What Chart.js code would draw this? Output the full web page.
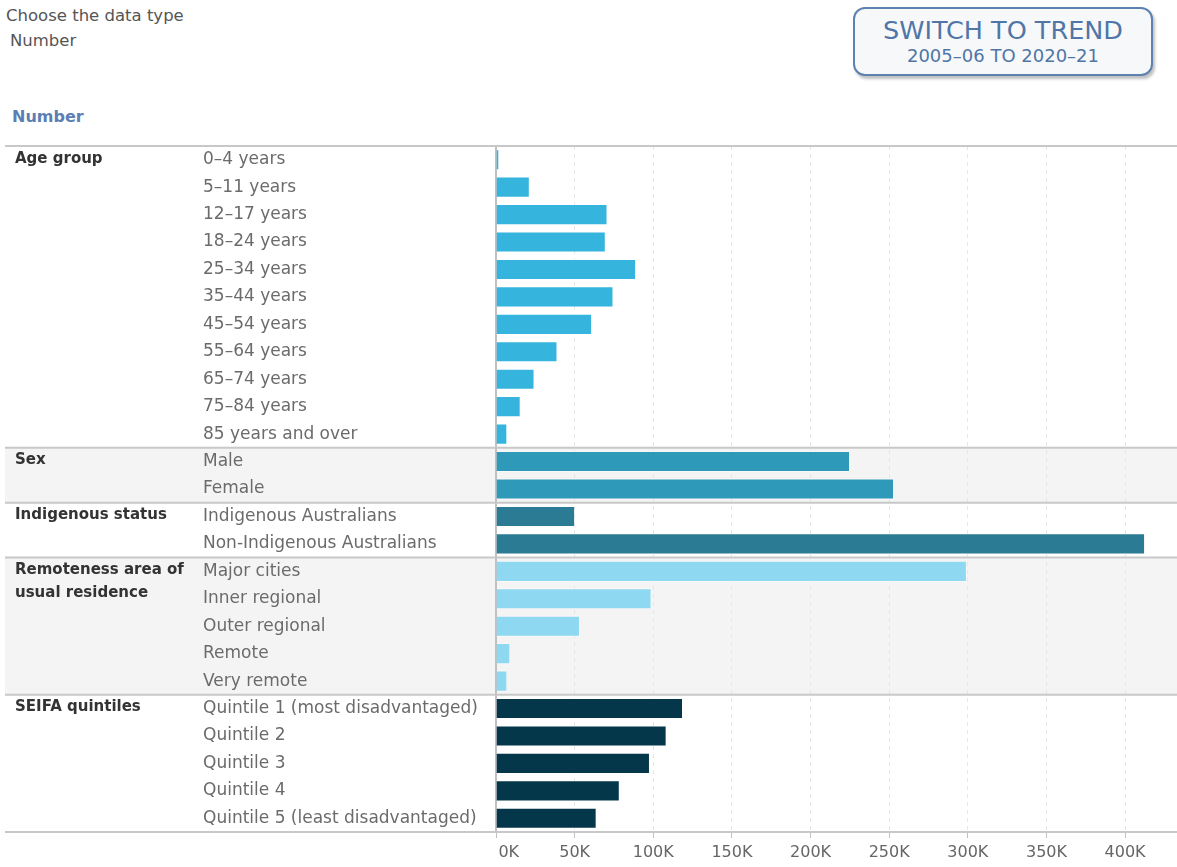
<!DOCTYPE html>
<html>
<head>
<meta charset="utf-8">
<script src="https://cdn.jsdelivr.net/npm/chart.js@4"></script>
<style>
  body { margin: 0; background: #fff; font-family: "DejaVu Sans", sans-serif; }
  #page { position: relative; width: 1177px; height: 867px; overflow: hidden; }
  .txt { position: absolute; white-space: nowrap; color: #555; font-size: 16.5px; }
  #choose { left: 6px; top: 6px; }
  #pick { left: 10px; top: 31px; }
  #heading { left: 12px; top: 107px; color: #5b7fb5; font-size: 16px; font-weight: bold; }
  #switch {
    position: absolute; left: 853px; top: 7px; width: 296px; height: 65px;
    border: 2px solid #5e82b0; border-radius: 12px; background: #f7f8fa;
    box-shadow: 2px 3px 3px rgba(0,0,0,0.25); text-align: center; color: #4f76a6;
  }
  #switch .big { font-size: 25.5px; margin-top: 6px; line-height: 30px; }
  #switch .small { font-size: 18px; line-height: 21px; }
  #wrap { position: absolute; left: 0; top: 140px; width: 1177px; height: 727px; }
</style>
</head>
<body>
<div id="page">
  <div class="txt" id="choose">Choose the data type</div>
  <div class="txt" id="pick">Number</div>
  <div id="switch"><div class="big">SWITCH TO TREND</div><div class="small">2005–06 TO 2020–21</div></div>
  <div class="txt" id="heading">Number</div>
  <div id="wrap"><canvas id="myChart"></canvas></div>
</div>
<script>
// data, in thousands
const groupNames = ['Age group', 'Sex', 'Indigenous status', 'Remoteness area of|usual residence', 'SEIFA quintiles'];

const ageLabels = ['0–4 years', '5–11 years', '12–17 years', '18–24 years', '25–34 years', '35–44 years',
                   '45–54 years', '55–64 years', '65–74 years', '75–84 years', '85 years and over'];
const ageValues = [2.1, 21.5, 70.9, 69.8, 89.1, 74.7, 61.1, 39.1, 24.5, 15.7, 7.2];

const sexLabels = ['Male', 'Female'];
const sexValues = [225.1, 253.1];

const indigLabels = ['Indigenous Australians', 'Non-Indigenous Australians'];
const indigValues = [50.3, 412.7];

const remoteLabels = ['Major cities', 'Inner regional', 'Outer regional', 'Remote', 'Very remote'];
const remoteValues = [299.4, 98.9, 53.4, 9.1, 7.2];

const seifaLabels = ['Quintile 1 (most disadvantaged)', 'Quintile 2', 'Quintile 3', 'Quintile 4', 'Quintile 5 (least disadvantaged)'];
const seifaValues = [118.9, 108.5, 97.9, 78.7, 64.0];

const groupColors = ['#35b4dd', '#2e99b9', '#2a7b93', '#8ed8f1', '#04374a'];
const shadedGroups = [1, 3];

const xTicks = [0, 50, 100, 150, 200, 250, 300, 350, 400];

// build flat lists
const groupLabels = [ageLabels, sexLabels, indigLabels, remoteLabels, seifaLabels];
const groupValues = [ageValues, sexValues, indigValues, remoteValues, seifaValues];
let labels = [], values = [], colors = [], groupStart = [];
groupLabels.forEach((g, gi) => {
  groupStart.push(labels.length);
  g.forEach((l, i) => {
    labels.push(l);
    values.push(groupValues[gi][i]);
    colors.push(groupColors[gi]);
  });
});
groupStart.push(labels.length);

const groupPlugin = {
  id: 'groups',
  beforeDraw(chart) {
    const ctx = chart.ctx, y = chart.scales.y;
    const half = (y.getPixelForValue(1) - y.getPixelForValue(0)) / 2;
    ctx.save();
    ctx.fillStyle = '#f4f4f4';
    shadedGroups.forEach(gi => {
      const top = y.getPixelForValue(groupStart[gi]) - half;
      const bot = y.getPixelForValue(groupStart[gi + 1] - 1) + half;
      ctx.fillRect(5, top, chart.width - 5, bot - top);
    });
    ctx.restore();
  },
  afterDraw(chart) {
    const ctx = chart.ctx, y = chart.scales.y;
    const half = (y.getPixelForValue(1) - y.getPixelForValue(0)) / 2;
    ctx.save();
    ctx.strokeStyle = '#c8c8c8';
    ctx.lineWidth = 2;
    groupStart.forEach((s, k) => {
      const py = k < groupStart.length - 1 ? y.getPixelForValue(s) - half : y.getPixelForValue(s - 1) + half;
      ctx.beginPath();
      ctx.moveTo(5, py);
      ctx.lineTo(chart.width, py);
      ctx.stroke();
    });
    ctx.fillStyle = '#333';
    ctx.font = 'bold 15px "DejaVu Sans"';
    ctx.textBaseline = 'middle';
    groupNames.forEach((name, gi) => {
      const cy = y.getPixelForValue(groupStart[gi]) - 1;
      name.split('|').forEach((line, li) => {
        ctx.fillText(line, 15, cy + li * 23);
      });
    });
    ctx.restore();
  }
};

const ctx = document.getElementById('myChart').getContext('2d');
new Chart(ctx, {
  type: 'bar',
  data: {
    labels: labels,
    datasets: [{
      data: values,
      backgroundColor: colors,
      borderColor: 'rgba(255,255,255,0.45)',
      borderWidth: 1,
      barPercentage: 0.77,
      categoryPercentage: 1,
    }],
  },
  options: {
    indexAxis: 'y',
    responsive: true,
    maintainAspectRatio: false,
    animation: false,
    layout: { padding: { left: 203, top: 6, right: 0, bottom: 0 } },
    plugins: { legend: { display: false }, tooltip: { enabled: false } },
    scales: {
      x: {
        min: 0,
        max: 433,
        afterBuildTicks: (scale) => { scale.ticks = xTicks.map(v => ({ value: v })); },
        afterFit: (scale) => { scale.height = 35; },
        ticks: {
          // Tableau keeps the first label right of the axis
          callback: (v) => v === 0 ? '     0K' : v + 'K',
          color: '#666',
          padding: 5,
          font: { family: 'DejaVu Sans', size: 16 },
          maxRotation: 0,
        },
        grid: { color: '#e6e6e6', tickColor: '#c0c0c0', tickLength: 6, lineWidth: 1 },
        border: { display: false, dash: [4, 4] },
      },
      y: {
        afterFit: (scale) => {
          scale.width = 293;
          scale.paddingTop = 0;
          scale.paddingBottom = 0;
        },
        ticks: {
          crossAlign: 'far',
          color: '#6b6b6b',
          font: { family: 'DejaVu Sans', size: 17 },
          autoSkip: false,
          padding: 0,
        },
        grid: { display: false },
        border: { display: true, color: '#c0c0c0', width: 2 },
      },
    },
  },
  plugins: [groupPlugin],
});
</script>
</body>
</html>
